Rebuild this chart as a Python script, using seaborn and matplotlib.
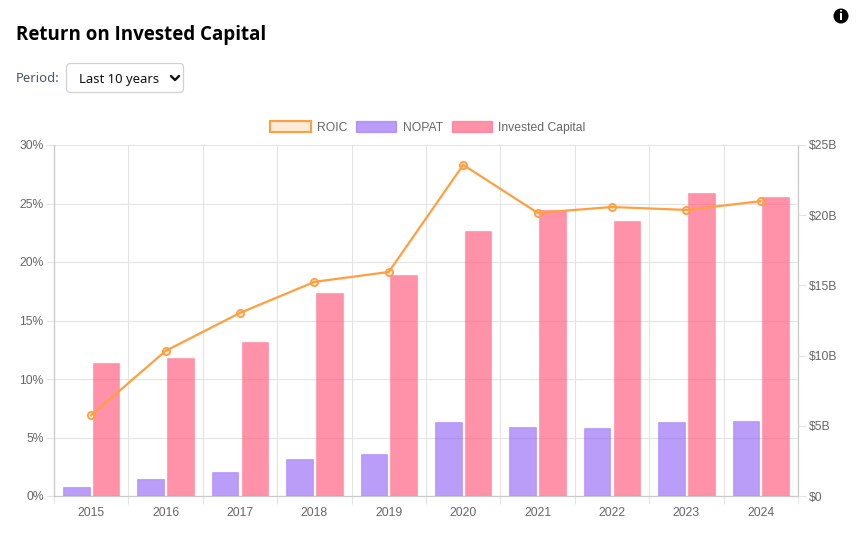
import matplotlib
matplotlib.use("Agg")
import matplotlib.pyplot as plt
import numpy as np
import pandas as pd
import seaborn as sns
from matplotlib.lines import Line2D
from matplotlib.patches import Circle, FancyBboxPatch, Patch

years = ["2015", "2016", "2017", "2018", "2019", "2020", "2021", "2022", "2023", "2024"]
roic = [6.9, 12.4, 15.65, 18.3, 19.15, 28.3, 24.2, 24.7, 24.45, 25.2]
nopat = [0.64, 1.2, 1.7, 2.6, 3.0, 5.27, 4.9, 4.84, 5.25, 5.35]
invested = [9.47, 9.83, 10.97, 14.46, 15.74, 18.87, 20.37, 19.59, 21.58, 21.3]
roic_ticks = [0, 5, 10, 15, 20, 25, 30]
capital_ticks = [0, 5, 10, 15, 20, 25]

W, H = 856, 544
GRID = "#e4e4e4"
AXIS = "#c9c9c9"
TEXT = "#666666"
ORANGE = "#ff9f40"
PURPLE = (0.545, 0.361, 0.965, 0.6)
PINK = (1.0, 0.388, 0.518, 0.7)
LAB = 8.7

sns.set_theme(style="white")
plt.rcParams["font.family"] = ["Liberation Sans", "DejaVu Sans"]

fig = plt.figure(figsize=(W / 100, H / 100), dpi=100, facecolor="white")
# three stacked layers: percent grid at the back, bars, then the ROIC line
ax_pct = fig.add_axes([54 / W, 1 - 496 / H, 744 / W, 351 / H])
ax_bar = ax_pct.twinx()
ax_line = ax_pct.twinx()
ax_bar.set_zorder(ax_pct.get_zorder() + 1)
ax_line.set_zorder(ax_pct.get_zorder() + 2)
ax_bar.patch.set_visible(False)
ax_line.patch.set_visible(False)

df = pd.DataFrame({
    "year": years * 2,
    "value": nopat + invested,
    "series": ["NOPAT"] * len(years) + ["Invested Capital"] * len(years),
})
sns.barplot(data=df, x="year", y="value", hue="series", ax=ax_bar, width=0.8, gap=0.11,
            palette={"NOPAT": PURPLE[:3], "Invested Capital": PINK[:3]},
            saturation=1, legend=False)
for container, colour in zip(ax_bar.containers, (PURPLE, PINK)):
    for bar in container:
        bar.set_facecolor(colour)
        bar.set_edgecolor(colour[:3] + (0.35,))
        bar.set_linewidth(0.8)

sns.lineplot(x=np.arange(len(years)), y=roic, ax=ax_line, color=ORANGE, linewidth=1.6,
             marker="o", markersize=5.2, markerfacecolor=(1, 0.62, 0.25, 0.2),
             markeredgecolor=ORANGE, markeredgewidth=1.3, legend=False)

ax_pct.set_xlim(-0.5, len(years) - 0.5)
ax_pct.set_ylim(0, 30)
ax_line.set_ylim(0, 30)
ax_bar.set_ylim(0, 25)

ax_pct.set_yticks(roic_ticks, [f"{t}%" for t in roic_ticks])
ax_bar.yaxis.tick_right()
ax_bar.set_yticks(capital_ticks, ["$0"] + [f"${t}B" for t in capital_ticks[1:]])
ax_line.set_yticks([])
ax_pct.set_xticks(range(len(years)), years)
ax_pct.set_xticks(np.arange(-0.5, len(years)), minor=True)
ax_pct.grid(True, which="minor", axis="x", color=GRID, linewidth=0.8)
ax_pct.grid(True, which="major", axis="y", color=GRID, linewidth=0.8)
ax_pct.grid(False, which="major", axis="x")
ax_pct.set_axisbelow(True)
for a in (ax_pct, ax_bar, ax_line):
    a.set_xlabel("")
    a.set_ylabel("")

ax_pct.tick_params(axis="x", which="major", length=0, pad=8, labelsize=LAB, labelcolor=TEXT, bottom=True, labelbottom=True)
ax_pct.tick_params(axis="x", which="minor", bottom=True, length=5.5, width=0.8, color=GRID)
ax_pct.tick_params(axis="y", left=True, length=5.5, width=0.8, color=GRID, pad=2, labelsize=LAB, labelcolor=TEXT)
ax_bar.tick_params(axis="y", right=True, length=5.5, width=0.8, color=GRID, pad=2.5, labelsize=LAB, labelcolor=TEXT)

for a in (ax_pct, ax_bar, ax_line):
    for side in ("top", "left", "right", "bottom"):
        a.spines[side].set_visible(a is ax_pct and side != "top")
        a.spines[side].set_color(AXIS)
        a.spines[side].set_linewidth(0.9)

handles = [
    Patch(facecolor=(1, 0.62, 0.25, 0.2), edgecolor=ORANGE, linewidth=1.5, label="ROIC"),
    Patch(facecolor=PURPLE, edgecolor=PURPLE[:3] + (0.5,), linewidth=1, label="NOPAT"),
    Patch(facecolor=PINK, edgecolor=PINK[:3] + (0.6,), linewidth=1, label="Invested Capital"),
]
fig.legend(handles=handles, loc="center", bbox_to_anchor=(428 / W, 1 - 127.5 / H), ncols=3,
           frameon=False, fontsize=LAB, labelcolor=TEXT, handlelength=3.33, handleheight=0.95,
           handletextpad=0.55, columnspacing=0.7, borderpad=0)

# page furniture around the chart
fig.text(16 / W, 1 - 35 / H, "Return on Invested Capital", fontsize=13.5, fontweight="bold",
         family="Open Sans", color="#000000", va="center")
fig.text(16 / W, 1 - 78.5 / H, "Period:", fontsize=9.4, family="Noto Sans", color="#4b5563", va="center")
fig.add_artist(FancyBboxPatch((66.5, H - 92.5), 117, 29,
                              boxstyle="round,pad=0,rounding_size=4",
                              transform=None, facecolor="white",
                              edgecolor="#cfd0d8", linewidth=0.9))
fig.text(79 / W, 1 - 79 / H, "Last 10 years", fontsize=9.4, family="Noto Sans", color="#111111", va="center")
fig.add_artist(Line2D([171 / W, 175 / W, 179 / W], [1 - 76 / H, 1 - 80 / H, 1 - 76 / H],
                      transform=fig.transFigure, color="#111111", linewidth=1.7))
fig.add_artist(Circle((841, H - 16), 7.5, transform=None, facecolor="black", edgecolor="none"))
fig.text(841 / W, 1 - 16 / H, "i", fontsize=8.5, fontweight="bold", family="DejaVu Sans",
         color="white", ha="center", va="center")

fig.savefig("out.png", dpi=100)
